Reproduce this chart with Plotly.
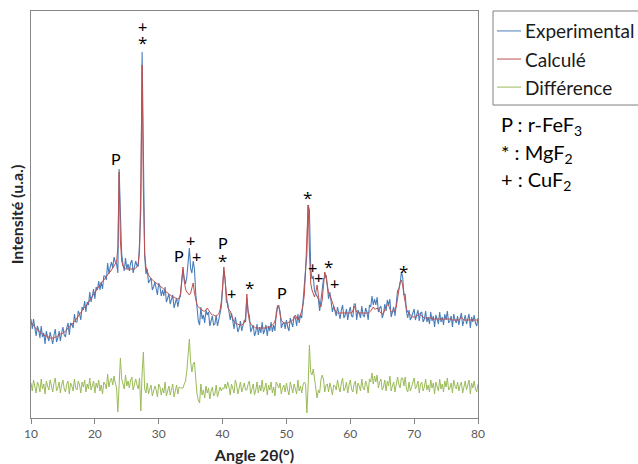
import numpy as np
import plotly.graph_objects as go

# ---------------- data ----------------
two_theta = np.round(np.linspace(10, 80, 351), 1)  # 0.2 deg step

experimental = [
    100, 90, 100, 90, 83, 93, 89, 81, 93, 82,
    86, 75, 88, 82, 78, 87, 80, 75, 84, 90,
    77, 81, 88, 78, 86, 92, 84, 82, 91, 96,
    84, 96, 95, 91, 105, 97, 97, 108, 105, 99,
    112, 109, 118, 107, 117, 114, 127, 117, 123, 130,
    120, 132, 129, 138, 129, 137, 130, 143, 143, 139,
    156, 145, 152, 157, 151, 162, 157, 155, 146, 250,
    206, 165, 155, 148, 161, 150, 155, 148, 156, 159,
    146, 153, 158, 153, 153, 176, 210, 367, 262, 163,
    145, 150, 136, 139, 141, 129, 132, 137, 132, 124,
    136, 132, 123, 129, 123, 132, 117, 121, 125, 115,
    120, 124, 111, 115, 121, 112, 120, 123, 140, 150,
    140, 135, 142, 162, 171, 150, 146, 158, 150, 125,
    106, 98, 94, 112, 100, 104, 96, 109, 104, 107,
    93, 100, 103, 94, 95, 104, 93, 99, 108, 112,
    130, 149, 140, 117, 116, 108, 99, 106, 96, 90,
    102, 96, 87, 91, 98, 88, 93, 99, 97, 121,
    108, 103, 87, 92, 94, 83, 87, 95, 84, 92,
    86, 97, 85, 89, 94, 83, 93, 88, 97, 87,
    94, 88, 106, 113, 112, 108, 91, 95, 97, 90,
    99, 92, 88, 101, 97, 92, 103, 101, 93, 105,
    96, 104, 101, 115, 128, 150, 165, 214, 209, 150,
    140, 143, 128, 125, 122, 120, 108, 118, 130, 140,
    141, 144, 133, 120, 127, 118, 107, 113, 109, 103,
    112, 105, 100, 109, 114, 101, 104, 110, 99, 107,
    112, 103, 102, 115, 115, 99, 109, 106, 101, 113,
    104, 102, 111, 107, 99, 114, 112, 123, 114, 120,
    114, 122, 107, 111, 113, 101, 105, 115, 108, 119,
    114, 120, 102, 107, 112, 103, 115, 128, 130, 135,
    147, 142, 124, 125, 107, 101, 109, 99, 102, 107,
    110, 99, 103, 109, 98, 106, 107, 97, 100, 108,
    97, 102, 95, 107, 98, 103, 92, 104, 100, 95,
    107, 97, 102, 94, 105, 99, 108, 96, 98, 103,
    92, 105, 99, 96, 103, 94, 101, 106, 93, 98,
    104, 95, 100, 105, 91, 102, 97, 104, 96, 93, 101,
]

calcule = [
    97, 95, 94, 92, 90, 89, 88, 87, 86, 85,
    84, 83, 83, 82, 82, 81, 81, 81, 81, 82,
    82, 83, 84, 85, 85, 86, 87, 88, 89, 91,
    92, 93, 95, 96, 98, 99, 101, 103, 104, 106,
    108, 110, 112, 113, 115, 117, 119, 121, 123, 125,
    127, 129, 131, 132, 134, 136, 138, 139, 141, 142,
    144, 146, 147, 149, 150, 152, 154, 157, 172, 247,
    178, 158, 153, 151, 150, 150, 150, 150, 150, 150,
    150, 150, 151, 152, 156, 168, 235, 354, 228, 166,
    152, 147, 144, 142, 140, 139, 138, 137, 136, 135,
    134, 133, 132, 131, 130, 128, 127, 126, 125, 124,
    123, 122, 122, 121, 120, 120, 121, 125, 142, 152,
    138, 130, 127, 125, 124, 126, 132, 136, 126, 118,
    114, 112, 111, 110, 109, 108, 108, 109, 111, 109,
    106, 105, 104, 104, 103, 103, 104, 105, 109, 117,
    132, 152, 138, 120, 112, 109, 108, 104, 100, 97,
    96, 95, 95, 94, 94, 94, 95, 96, 101, 125,
    106, 98, 95, 93, 92, 92, 91, 91, 91, 91,
    91, 91, 91, 91, 91, 92, 92, 92, 93, 94,
    95, 98, 102, 112, 114, 105, 99, 97, 96, 96,
    96, 96, 97, 97, 98, 99, 101, 104, 101, 99,
    101, 104, 108, 114, 124, 148, 192, 214, 168, 136,
    129, 126, 122, 127, 134, 124, 115, 112, 119, 133,
    147, 143, 131, 126, 124, 120, 116, 112, 109, 107,
    106, 106, 106, 106, 106, 106, 106, 106, 106, 106,
    106, 106, 108, 113, 110, 107, 106, 106, 106, 106,
    106, 106, 106, 106, 106, 107, 108, 110, 112, 110,
    110, 111, 109, 107, 106, 105, 106, 109, 113, 114,
    114, 110, 107, 107, 108, 109, 112, 119, 128, 137,
    139, 134, 124, 116, 110, 107, 105, 104, 103, 102,
    102, 102, 103, 104, 105, 104, 103, 102, 101, 101,
    101, 101, 101, 101, 100, 100, 100, 100, 100, 100,
    100, 100, 100, 100, 100, 100, 100, 100, 100, 100,
    99, 99, 99, 99, 99, 99, 100, 102, 100, 99,
    99, 99, 99, 99, 99, 99, 99, 99, 99, 99, 99,
]

# Difference curve = experimental - calculated, shifted down for display
diff_offset = 33
difference = [e - c + diff_offset for e, c in zip(experimental, calcule)]

# Peak labels (phase markers)
label_theta = [27.43, 27.43, 23.31, 33.22, 35.01, 35.84, 40.02, 40.02, 41.43,
               44.18, 49.26, 53.33, 54.16, 55.05, 56.66, 57.49, 68.41]
label_height = [394, 381, 261, 164, 180, 164, 177, 163, 127,
                136, 127, 226, 153, 143, 157, 137, 152]
label_text = ["+", "*", "P", "P", "+", "+", "P", "*", "+",
              "*", "P", "*", "+", "+", "*", "+", "*"]

series_names = ["Experimental", "Calculé", "Différence"]
series_colors = ["#4A7EBB", "#C0504D", "#9BBB59"]
phase_key = ["P : r-FeF<sub>3</sub>", "* : MgF<sub>2</sub>", "+ : CuF<sub>2</sub>"]
x_ticks = [10, 20, 30, 40, 50, 60, 70, 80]

FONT = "Lato, 'Open Sans', sans-serif"

# ---------------- figure ----------------
fig = go.Figure()
fig.add_trace(go.Scatter(x=two_theta, y=difference, mode="lines", name=series_names[2],
                         line=dict(color=series_colors[2], width=1), showlegend=False))
fig.add_trace(go.Scatter(x=two_theta, y=experimental, mode="lines", name=series_names[0],
                         line=dict(color=series_colors[0], width=1.1), showlegend=False))
fig.add_trace(go.Scatter(x=two_theta, y=calcule, mode="lines", name=series_names[1],
                         line=dict(color=series_colors[1], width=1), showlegend=False))

annotations = []
for tx, ty, tt in zip(label_theta, label_height, label_text):
    star = tt == "*"
    annotations.append(dict(x=tx, y=ty, xref="x", yref="y", text=tt, showarrow=False,
                            font=dict(family="'Open Sans', sans-serif" if star else FONT,
                                      size=17 if star else 16, color="#000000"),
                            xanchor="center", yanchor="middle",
                            yshift=-4 if star else 0))

# manual legend box
shapes = [dict(type="rect", xref="paper", yref="paper", x0=1.0336, x1=1.5, y0=0.769, y1=1.0,
               line=dict(color="#7F7F7F", width=1), fillcolor="white", layer="above")]
leg_y = [0.951, 0.882, 0.813]
for name, col, yy in zip(series_names, series_colors, leg_y):
    shapes.append(dict(type="line", xref="paper", yref="paper", x0=1.0425, x1=1.0962,
                       y0=yy, y1=yy, line=dict(color=col, width=1)))
    annotations.append(dict(x=1.1007, y=yy, xref="paper", yref="paper", text=name,
                            showarrow=False, xanchor="left", yanchor="middle",
                            font=dict(family=FONT, size=19, color="#1a1a1a")))

key_y = [0.718, 0.651, 0.584]
for txt, yy in zip(phase_key, key_y):
    annotations.append(dict(x=1.048, y=yy, xref="paper", yref="paper", text=txt,
                            showarrow=False, xanchor="left", yanchor="middle",
                            font=dict(family=FONT, size=20, color="#000000")))

fig.update_layout(
    width=638, height=464,
    margin=dict(l=31, r=160, t=11, b=46, autoexpand=False),
    paper_bgcolor="white", plot_bgcolor="white",
    showlegend=False,
    annotations=annotations, shapes=shapes,
    font=dict(family=FONT),
)
fig.update_xaxes(range=[10, 80], tickvals=x_ticks, ticks="outside", ticklen=5,
                 tickcolor="#868686", showline=True, linecolor="#868686", mirror=True,
                 showgrid=False, zeroline=False,
                 tickfont=dict(family=FONT, size=12, color="#595959"),
                 title=dict(text="<b>Angle 2θ(°)</b>", standoff=10,
                            font=dict(family=FONT, size=16, color="#262626")))
fig.update_yaxes(range=[1, 408], showticklabels=False, ticks="", showline=True,
                 linecolor="#868686", mirror=True, showgrid=False, zeroline=False,
                 title=dict(text="<b>Intensité (u.a.)</b>", standoff=2,
                            font=dict(family=FONT, size=16, color="#262626")))

fig.write_html("out.html", config={"displayModeBar": False},
               post_script="document.body.style.margin='0';")
